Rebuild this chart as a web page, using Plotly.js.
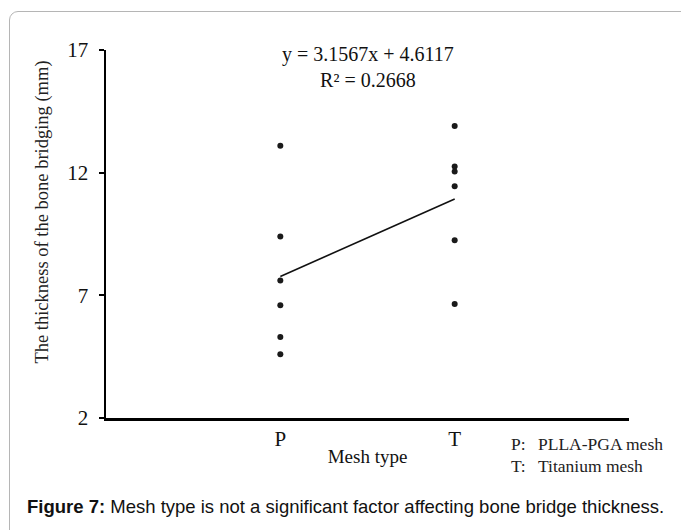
<!DOCTYPE html>
<html>
<head>
<meta charset="utf-8">
<script src="https://cdn.plot.ly/plotly-3.0.1.min.js"></script>
<style>
  html, body { margin: 0; padding: 0; background: #fff; overflow: hidden; }
  #frame { position: absolute; left: 9px; top: 11px; width: 720px; height: 560px;
           border: 1px solid #b5b5b5; border-radius: 9px; box-sizing: border-box; }
  #chart { position: absolute; left: 0; top: 0; width: 681px; height: 530px; }
</style>
</head>
<body>
<div id="frame"></div>
<div id="chart"></div>
<script>
// Data
const categories = ["P", "T"];
const categoryPositions = [1, 2];
const pValues = [13.1, 9.4, 7.6, 6.6, 5.3, 4.6];      // PLLA-PGA mesh
const tValues = [13.9, 12.25, 12.05, 11.45, 9.25, 6.65]; // Titanium mesh
const trendSlope = 3.1567;
const trendIntercept = 4.6117;
const rSquared = 0.2668;
const yTicks = [2, 7, 12, 17];

const serif = "Liberation Serif, Times New Roman, serif";

const xs = [], ys = [];
pValues.forEach(v => { xs.push(categoryPositions[0]); ys.push(v); });
tValues.forEach(v => { xs.push(categoryPositions[1]); ys.push(v); });

const trendX = [categoryPositions[0], categoryPositions[1]];
const trendY = trendX.map(x => trendSlope * x + trendIntercept);

const traces = [
  { type: "scatter", mode: "markers", x: xs, y: ys,
    marker: { color: "#1a1a1a", size: 6 }, hoverinfo: "x+y", showlegend: false },
  { type: "scatter", mode: "lines", x: trendX, y: trendY,
    line: { color: "#111", width: 1.6 }, hoverinfo: "skip", showlegend: false }
];

const layout = {
  width: 681, height: 530,
  margin: { l: 106, r: 52, t: 50, b: 112 },
  paper_bgcolor: "rgba(0,0,0,0)", plot_bgcolor: "rgba(0,0,0,0)",
  showlegend: false,
  font: { family: serif, color: "#111" },
  xaxis: {
    range: [0, 3], tickmode: "array", tickvals: categoryPositions, ticktext: categories,
    showgrid: false, zeroline: false, showline: true, linecolor: "#000", linewidth: 2.5,
    ticks: "", tickfont: { family: serif, size: 21, color: "#111" },
    title: { text: "Mesh type", font: { family: serif, size: 19, color: "#111" }, standoff: 0 }
  },
  yaxis: {
    range: [2, 17], tickmode: "array", tickvals: yTicks,
    showgrid: false, zeroline: false, showline: true, linecolor: "#000", linewidth: 2.5,
    ticks: "outside", ticklen: 5, tickwidth: 2, tickcolor: "#000",
    tickfont: { family: serif, size: 21, color: "#111" }, ticklabelstandoff: 6
  },
  annotations: [
    { xref: "paper", yref: "paper", x: -0.145, y: 0.56, textangle: -90,
      text: "The thickness of the bone bridging (mm)", showarrow: false,
      font: { family: serif, size: 18.5, color: "#222" } },
    { xref: "paper", yref: "paper", x: 0.501, y: 0.953, yanchor: "middle",
      text: "y = " + trendSlope + "x + " + trendIntercept + "<br>R² = " + rSquared,
      showarrow: false, font: { family: serif, size: 20, color: "#111" } },
    { xref: "paper", yref: "paper", x: (509 - 106) / 523, y: (418 - 444) / 368, xanchor: "left", yanchor: "middle",
      text: "P:", showarrow: false, font: { family: serif, size: 17.5, color: "#222" } },
    { xref: "paper", yref: "paper", x: (536 - 106) / 523, y: (418 - 444) / 368, xanchor: "left", yanchor: "middle",
      text: "PLLA-PGA mesh", showarrow: false, font: { family: serif, size: 17.5, color: "#222" } },
    { xref: "paper", yref: "paper", x: (509 - 106) / 523, y: (418 - 466) / 368, xanchor: "left", yanchor: "middle",
      text: "T:", showarrow: false, font: { family: serif, size: 17.5, color: "#222" } },
    { xref: "paper", yref: "paper", x: (536 - 106) / 523, y: (418 - 466) / 368, xanchor: "left", yanchor: "middle",
      text: "Titanium mesh", showarrow: false, font: { family: serif, size: 17.5, color: "#222" } },
    { xref: "paper", yref: "paper", x: (25 - 106) / 523, y: (418 - 506) / 368, xanchor: "left", yanchor: "middle",
      text: "<b>Figure 7:</b> Mesh type is not a significant factor affecting bone bridge thickness.",
      showarrow: false, font: { family: "Liberation Sans, Arial, sans-serif", size: 18.5, color: "#111" } }
  ]
};

Plotly.newPlot("chart", traces, layout, { displayModeBar: false, staticPlot: true });
</script>
</body>
</html>
